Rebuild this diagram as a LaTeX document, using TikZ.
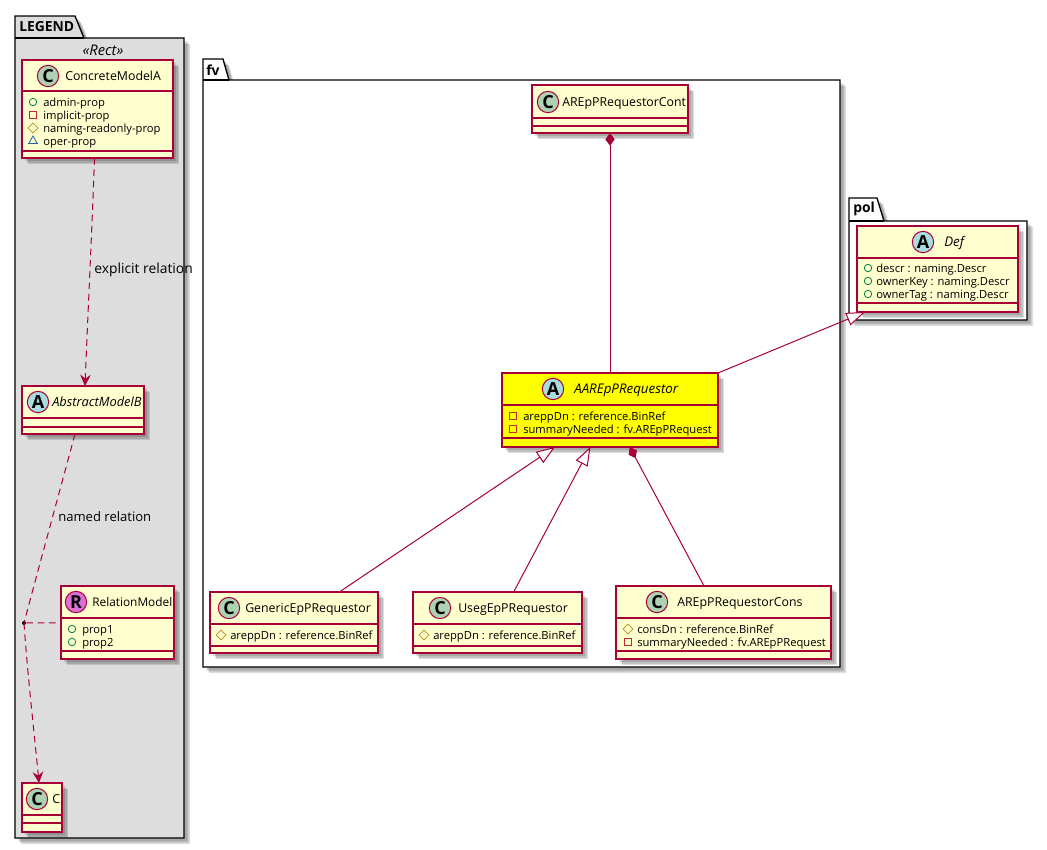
\documentclass[tikz,border=0pt]{standalone}
\usepackage{fontspec}
\setmainfont{Open Sans}
\usetikzlibrary{arrows.meta,calc,fit,shadows,shapes.geometric}
\definecolor{rot}{HTML}{A80036}
\definecolor{klass}{HTML}{FEFECE}
\definecolor{gelb}{HTML}{FFFF00}
\definecolor{legende}{HTML}{DDDDDD}
\definecolor{kreisc}{HTML}{ADD1B2}
\definecolor{kreisa}{HTML}{A9DCDF}
\definecolor{kreisr}{HTML}{DA70D6}
\definecolor{mgruen}{HTML}{038048}
\definecolor{mrot}{HTML}{C82930}
\definecolor{mgold}{HTML}{B38D22}
\definecolor{mblau}{HTML}{1963A0}
\tikzset{
  schatten/.style={
    general shadow={shadow xshift=2.5pt,shadow yshift=-2.5pt,fill=black,opacity=0.13},
    general shadow={shadow xshift=3.5pt,shadow yshift=-3.5pt,fill=black,opacity=0.13},
    general shadow={shadow xshift=4.5pt,shadow yshift=-4.5pt,fill=black,opacity=0.13}},
  klasse/.style={schatten,draw=rot,line width=0.85pt,inner sep=0pt,outer sep=0pt},
  trenn/.style={rot,line width=0.85pt},
  kreis/.style={circle,draw=rot,line width=0.75pt,minimum size=16pt,inner sep=0pt,font=\fontsize{13.5}{13.5}\selectfont\bfseries},
  kname/.style={anchor=west,inner sep=0pt,text height=6pt,text depth=0pt,font=\fontsize{9.25}{11}\selectfont},
  kursiv/.style={font=\fontsize{10}{11}\selectfont\itshape},
  mtext/.style={anchor=west,inner sep=0pt,text height=6pt,text depth=0pt,font=\fontsize{8.4}{10}\selectfont},
  mpub/.style={circle,draw=mgruen,line width=0.6pt,minimum size=5.6pt,inner sep=0pt},
  mpriv/.style={rectangle,draw=mrot,line width=0.6pt,minimum size=5.4pt,inner sep=0pt},
  mprot/.style={diamond,draw=mgold,line width=0.6pt,minimum size=7.5pt,inner sep=0pt},
  mpack/.style={regular polygon,regular polygon sides=3,draw=mblau,line width=0.6pt,minimum size=7.5pt,inner sep=0pt},
  paket/.style={schatten,draw=black,line width=1pt},
  ptitel/.style={anchor=west,inner sep=0pt,font=\fontsize{10.4}{12}\selectfont\bfseries},
  linie/.style={rot,line width=0.75pt},
  dep/.style={linie,dash pattern=on 5pt off 3.5pt,-{Stealth[length=8.5pt,width=8pt,inset=3pt]}},
  rel/.style={linie,dash pattern=on 5pt off 3.5pt},
  erbe/.style={linie,{Triangle[open,length=14pt,width=10pt,fill=white]}-},
  komp/.style={linie,{Diamond[length=9.5pt,width=7pt]}-},
  etikett/.style={anchor=west,inner sep=0pt,text height=6pt,text depth=0pt,font=\fontsize{9.8}{11}\selectfont},
}
\newcommand{\umlclass}[8][klass]{
  \node[klasse,fill=#1,fit={(#3,#4)(#5,#6)}] (#2) {};
  \draw[trenn] (#3,#7)--(#5,#7);
  \draw[trenn] (#3,#8)--(#5,#8);
}
\newcommand{\umlkopf}[8][]{
  \node[kreis,fill=#3] (#2k) at (#4,#5) {#6};
  \node[kname,#1] (#2n) at (#7,#5) {#8};
}
\newcommand{\umlmem}[6]{
  \node[#2] (#1i) at (#3,#5) {};
  \node[mtext] (#1t) at (#4,#5) {#6};
}
\begin{document}
\begin{tikzpicture}[x=0.75pt,y=-0.75pt]
  \useasboundingbox (0,0) rectangle (1047,850);
  \draw[paket,fill=legende] (15,16)--(75,16)--(84,38)--(184,38)--(184,838)--(15,838)--cycle;
  \draw[black,line width=1pt] (15,38)--(84,38);
  \node[ptitel] (legendt) at (19,27) {LEGEND};
  \node[anchor=center,inner sep=0pt,font=\fontsize{11}{12}\selectfont\itshape] (rectt) at (103,50) {«Rect»};
  \draw[paket,fill=white] (203,59)--(223,59)--(229,80)--(840,80)--(840,667)--(203,667)--cycle;
  \draw[black,line width=1pt] (203,80)--(229,80);
  \node[ptitel] (fvt) at (206,70) {fv};
  \draw[paket,fill=white] (849,198)--(877,198)--(884,221)--(1027,221)--(1027,320)--(849,320)--cycle;
  \draw[black,line width=1pt] (849,221)--(884,221);
  \node[ptitel] (polt) at (853,209) {pol};

  \umlclass{concrete}{22}{60}{173}{158}{91}{151}
  \umlkopf{concrete}{kreisc}{48}{76}{C}{65}{ConcreteModelA}
  \umlmem{concretea}{mpub}{33}{43}{102}{admin-prop}
  \umlmem{concreteb}{mpriv}{33}{43}{115}{implicit-prop}
  \umlmem{concretec}{mprot}{33}{43}{128}{naming-readonly-prop}
  \umlmem{concreted}{mpack}{33}{43}{141}{oper-prop}

  \umlclass{abstract}{22}{386}{144}{434}{418}{427}
  \umlkopf[font=\fontsize{9.6}{11}\selectfont\itshape]{abstract}{kreisa}{38}{402}{A}{52}{AbstractModelB}

  \umlclass{relation}{61}{586}{174}{659}{618}{651}
  \umlkopf[font=\fontsize{8.9}{11}\selectfont]{relation}{kreisr}{76}{602}{R}{92}{RelationModel}
  \umlmem{relationa}{mpub}{72}{82}{629}{prop1}
  \umlmem{relationb}{mpub}{72}{82}{642}{prop2}

  \umlclass{cclass}{22}{783}{62}{832}{815}{823}
  \umlkopf{cclass}{kreisc}{37}{799}{C}{52}{C}

  \umlclass{cont}{532}{85}{688}{133}{118}{126}
  \umlkopf{cont}{kreisc}{548}{102}{C}{562}{AREpPRequestorCont}

  \umlclass[gelb]{aar}{502}{373}{718}{447}{405}{438}
  \umlkopf[kursiv]{aar}{kreisa}{553}{389}{A}{574}{AAREpPRequestor}
  \umlmem{aara}{mpriv}{513}{523}{416}{areppDn : reference.BinRef}
  \umlmem{aarb}{mpriv}{513}{523}{429}{summaryNeeded : fv.AREpPRequest}

  \umlclass{generic}{210}{592}{378}{653}{624}{646}
  \umlkopf{generic}{kreisc}{229}{608}{C}{245}{GenericEpPRequestor}
  \umlmem{generica}{mprot}{221}{230}{635}{areppDn : reference.BinRef}

  \umlclass{useg}{413}{592}{582}{653}{624}{646}
  \umlkopf{useg}{kreisc}{440}{608}{C}{458}{UsegEpPRequestor}
  \umlmem{usega}{mprot}{424}{433}{635}{areppDn : reference.BinRef}

  \umlclass{cons}{616}{586}{831}{659}{618}{651}
  \umlkopf{cons}{kreisc}{657}{602}{C}{677}{AREpPRequestorCons}
  \umlmem{consa}{mprot}{628}{637}{629}{consDn : reference.BinRef}
  \umlmem{consb}{mpriv}{628}{637}{642}{summaryNeeded : fv.AREpPRequest}

  \umlclass{def}{857}{226}{1018}{312}{258}{303}
  \umlkopf[kursiv]{def}{kreisa}{923}{242}{A}{944}{Def}
  \umlmem{defa}{mpub}{868}{876}{268}{descr : naming.Descr}
  \umlmem{defb}{mpub}{868}{876}{281}{ownerKey : naming.Descr}
  \umlmem{defc}{mpub}{868}{876}{294}{ownerTag : naming.Descr}

  \node[circle,fill=black,minimum size=3pt,inner sep=0pt] (punkt) at (24,623) {};
  \draw[dep] ($(concrete.south)+(-3,0)$) .. controls (92,230) and (88,310) .. ($(abstract.north)+(2,0)$);
  \draw[rel] ($(abstract.south)+(-8,0)$) .. controls (60,490) and (38,570) .. (punkt.center);
  \draw[dep] (punkt.center) .. controls (28,680) and (34,730) .. ($(cclass.north)+(-3,0)$);
  \draw[rel] (punkt)--(relation);
  \node[etikett,font=\fontsize{10.4}{11}\selectfont] (explizit) at (94,269) {explicit relation};
  \node[etikett] (benannt) at (58,517) {named relation};

  \draw[komp] (cont)--(aar);
  \draw[erbe] (aar)--(generic);
  \draw[erbe] (aar)--(useg);
  \draw[komp] (aar)--(cons);
  \draw[erbe] ($(def.south west)+(8,0)$)--(aar.north east);
\end{tikzpicture}
\end{document}
